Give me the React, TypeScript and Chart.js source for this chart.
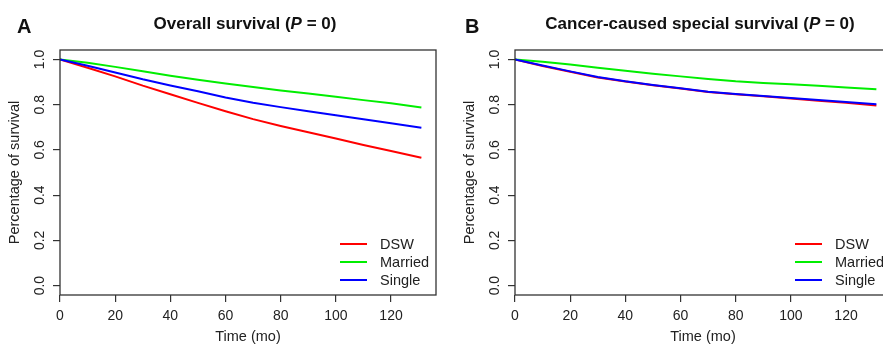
import React, { useEffect, useRef } from "react";
import { Chart, registerables } from "chart.js";

Chart.register(...registerables);

// ---- data ----
const months = [0, 10, 20, 30, 40, 50, 60, 70, 80, 90, 100, 110, 120, 131];

const overallDSW = [1.0, 0.963, 0.925, 0.884, 0.846, 0.808, 0.771, 0.736, 0.706, 0.678, 0.650, 0.622, 0.595, 0.565];
const overallMarried = [1.0, 0.985, 0.967, 0.948, 0.928, 0.910, 0.894, 0.878, 0.863, 0.849, 0.835, 0.820, 0.806, 0.787];
const overallSingle = [1.0, 0.972, 0.942, 0.912, 0.885, 0.859, 0.832, 0.808, 0.789, 0.771, 0.753, 0.735, 0.718, 0.698];

const cssDSW = [1.0, 0.971, 0.945, 0.920, 0.902, 0.886, 0.871, 0.856, 0.846, 0.837, 0.827, 0.817, 0.808, 0.796];
const cssMarried = [1.0, 0.990, 0.977, 0.963, 0.950, 0.937, 0.925, 0.913, 0.903, 0.896, 0.890, 0.883, 0.876, 0.868];
const cssSingle = [1.0, 0.973, 0.947, 0.922, 0.903, 0.887, 0.872, 0.857, 0.847, 0.838, 0.829, 0.820, 0.812, 0.802];

const seriesNames = ["DSW", "Married", "Single"];
const xTicks = [0, 20, 40, 60, 80, 100, 120];
const yTicks = [0, 0.2, 0.4, 0.6, 0.8, 1.0];

// ---- style ----
const FONT = "'Liberation Sans', Arial, Helvetica, sans-serif";
const COLORS = ["#ff0000", "#00ee00", "#0000ff"];
const INK = "#222";
const FRAME = "#333";
const W = 441;
const H = 347;

type PanelCfg = {
  letter: string;
  letterX: number;
  titleParts: { text: string; italic: boolean }[];
  series: number[][];
};

const panels: PanelCfg[] = [
  {
    letter: "A",
    letterX: 17,
    titleParts: [
      { text: "Overall survival (", italic: false },
      { text: "P", italic: true },
      { text: " = 0)", italic: false },
    ],
    series: [overallDSW, overallMarried, overallSingle],
  },
  {
    letter: "B",
    letterX: 10,
    titleParts: [
      { text: "Cancer-caused special survival (", italic: false },
      { text: "P", italic: true },
      { text: " = 0)", italic: false },
    ],
    series: [cssDSW, cssMarried, cssSingle],
  },
];

function makeFramePlugin(cfg: PanelCfg) {
  return {
    id: "frame",
    afterDraw(chart: any) {
      const { ctx, chartArea } = chart;
      const { left, right, top, bottom } = chartArea;
      ctx.save();
      // box
      ctx.strokeStyle = FRAME;
      ctx.lineWidth = 1.3;
      ctx.strokeRect(left, top, right - left, bottom - top);

      // panel letter
      ctx.fillStyle = "#111";
      ctx.textBaseline = "alphabetic";
      ctx.textAlign = "left";
      ctx.font = `bold 20px ${FONT}`;
      ctx.fillText(cfg.letter, cfg.letterX, 33);

      // title (mixed bold / bold italic)
      const parts = cfg.titleParts.map((p) => {
        const f = `${p.italic ? "italic " : ""}bold 17px ${FONT}`;
        ctx.font = f;
        return { ...p, f, w: ctx.measureText(p.text).width };
      });
      const total = parts.reduce((s, p) => s + p.w, 0);
      let x = (left + right) / 2 - 3 - total / 2;
      for (const p of parts) {
        ctx.font = p.f;
        ctx.fillText(p.text, x, 28.5);
        x += p.w;
      }

      // legend (bottom-right inside the plot)
      ctx.font = `14.5px ${FONT}`;
      ctx.textBaseline = "middle";
      chart.data.datasets.forEach((ds: any, i: number) => {
        const y = 244 + i * 18;
        ctx.strokeStyle = ds.borderColor;
        ctx.lineWidth = 2;
        ctx.beginPath();
        ctx.moveTo(right - 96, y);
        ctx.lineTo(right - 69, y);
        ctx.stroke();
        ctx.fillStyle = INK;
        ctx.fillText(ds.label, right - 56, y + 1);
      });
      ctx.restore();
    },
  };
}

function Panel({ cfg, left }: { cfg: PanelCfg; left: number }) {
  const ref = useRef<HTMLCanvasElement>(null);
  useEffect(() => {
    if (!ref.current) return;
    const datasets = seriesNames.map((name, i) => ({
      label: name,
      data: months.map((m, j) => ({ x: m, y: cfg.series[i][j] })),
      borderColor: COLORS[i],
      backgroundColor: COLORS[i],
      borderWidth: 2,
      pointRadius: 0,
      fill: false,
      tension: 0,
      order: seriesNames.length - i,
    }));
    const chart = new Chart(ref.current, {
      type: "line",
      data: { datasets },
      options: {
        responsive: false,
        animation: false,
        devicePixelRatio: 1,
        layout: { padding: { top: 50, right: 5, left: 0, bottom: 0 } },
        plugins: {
          legend: { display: false },
          tooltip: { enabled: false },
          title: { display: false },
        },
        scales: {
          x: {
            type: "linear",
            min: 0,
            max: 136.3,
            afterBuildTicks: (s: any) => {
              s.ticks = xTicks.map((v) => ({ value: v }));
            },
            afterFit: (s: any) => {
              s.height = 52;
            },
            grid: {
              display: true,
              drawOnChartArea: false,
              drawTicks: true,
              tickLength: 7,
              color: FRAME,
              lineWidth: 1.2,
            },
            border: { display: false },
            ticks: {
              font: { family: FONT, size: 14 },
              color: INK,
              padding: 6,
              maxRotation: 0,
              minRotation: 0,
              autoSkip: false,
              callback: (v: any) => String(v),
            },
            title: {
              display: true,
              text: "Time (mo)",
              font: { family: FONT, size: 14.5 },
              color: INK,
              padding: { top: 0, bottom: 1.3 },
            },
          },
          y: {
            type: "linear",
            min: -0.0416,
            max: 1.0416,
            afterBuildTicks: (s: any) => {
              s.ticks = yTicks.map((v) => ({ value: v }));
            },
            afterFit: (s: any) => {
              s.width = 60;
            },
            grid: {
              display: true,
              drawOnChartArea: false,
              drawTicks: true,
              tickLength: 7,
              color: FRAME,
              lineWidth: 1.2,
            },
            border: { display: false },
            ticks: {
              font: { family: FONT, size: 14 },
              color: INK,
              padding: 3,
              minRotation: 90,
              maxRotation: 90,
              crossAlign: "center",
              autoSkip: false,
              callback: (v: any) => Number(v).toFixed(1),
            },
            title: {
              display: true,
              text: "Percentage of survival",
              font: { family: FONT, size: 14.5 },
              color: INK,
              padding: { top: 6.3, bottom: 0 },
            },
          },
        },
      } as any,
      plugins: [makeFramePlugin(cfg)],
    });
    return () => chart.destroy();
  }, [cfg]);
  return (
    <canvas
      ref={ref}
      width={W}
      height={H}
      style={{ position: "absolute", left, top: 0, display: "block", width: W, height: H }}
    />
  );
}

export default function App() {
  return (
    <div
      style={{
        position: "fixed",
        left: 0,
        top: 0,
        width: 883,
        height: 347,
        overflow: "hidden",
        background: "#fff",
      }}
    >
      <Panel cfg={panels[0]} left={0} />
      <Panel cfg={panels[1]} left={455} />
    </div>
  );
}
